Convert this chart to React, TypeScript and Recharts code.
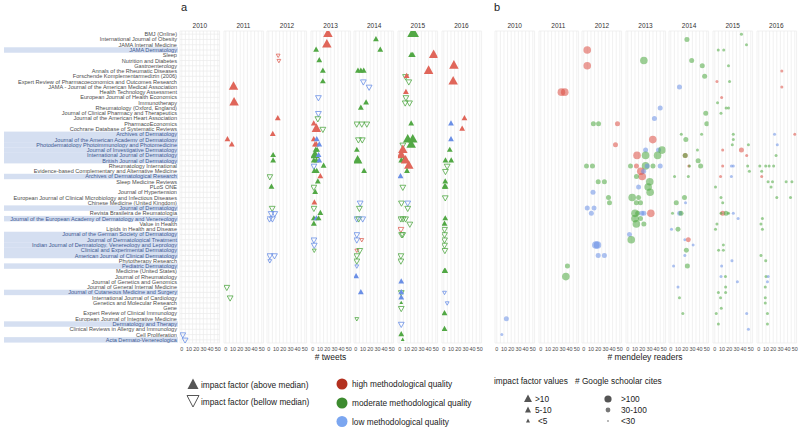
import React from 'react';
import { ScatterChart, Scatter, XAxis, YAxis, CartesianGrid } from 'recharts';

const YEARS = [2010, 2011, 2012, 2013, 2014, 2015, 2016];

const JOURNALS = [
  'BMJ (Online)',
  'International Journal of Obesity',
  'JAMA Internal Medicine',
  'JAMA Dermatology',
  'Sleep',
  'Nutrition and Diabetes',
  'Gastroenterology',
  'Annals of the Rheumatic Diseases',
  'Forschende Komplementarmedizin (2006)',
  'Expert Review of Pharmacoeconomics and Outcomes Research',
  'JAMA - Journal of the American Medical Association',
  'Health Technology Assessment',
  'European Journal of Health Economics',
  'Immunotherapy',
  'Rheumatology (Oxford, England)',
  'Journal of Clinical Pharmacy and Therapeutics',
  'Journal of the American Heart Association',
  'PharmacoEconomics',
  'Cochrane Database of Systematic Reviews',
  'Archives of Dermatology',
  'Journal of the American Academy of Dermatology',
  'Photodermatology Photoimmunology and Photomedicine',
  'Journal of Investigative Dermatology',
  'International Journal of Dermatology',
  'British Journal of Dermatology',
  'Rheumatology International',
  'Evidence-based Complementary and Alternative Medicine',
  'Archives of Dermatological Research',
  'Sleep Medicine Reviews',
  'PLoS ONE',
  'Journal of Hypertension',
  'European Journal of Clinical Microbiology and Infectious Diseases',
  'Chinese Medicine (United Kingdom)',
  'Journal of Dermatology',
  'Revista Brasileira de Reumatologia',
  'Journal of the European Academy of Dermatology and Venereology',
  'Value in Health',
  'Lipids in Health and Disease',
  'Journal of the German Society of Dermatology',
  'Journal of Dermatological Treatment',
  'Indian Journal of Dermatology, Venereology and Leprology',
  'Clinical and Experimental Dermatology',
  'American Journal of Clinical Dermatology',
  'Phytotherapy Research',
  'Pediatric Dermatology',
  'Medicine (United States)',
  'Journal of Rheumatology',
  'Journal of Genetics and Genomics',
  'Journal of General Internal Medicine',
  'Journal of Cutaneous Medicine and Surgery',
  'International Journal of Cardiology',
  'Genetics and Molecular Research',
  'Gene',
  'Expert Review of Clinical Immunology',
  'European Journal of Integrative Medicine',
  'Dermatology and Therapy',
  'Clinical Reviews in Allergy and Immunology',
  'Cell Proliferation',
  'Acta Dermato-Venereologica',
];

const DERMATOLOGY_JOURNALS = [
  'JAMA Dermatology',
  'Archives of Dermatology',
  'Journal of the American Academy of Dermatology',
  'Photodermatology Photoimmunology and Photomedicine',
  'Journal of Investigative Dermatology',
  'International Journal of Dermatology',
  'British Journal of Dermatology',
  'Archives of Dermatological Research',
  'Journal of Dermatology',
  'Journal of the European Academy of Dermatology and Venereology',
  'Journal of the German Society of Dermatology',
  'Journal of Dermatological Treatment',
  'Indian Journal of Dermatology, Venereology and Leprology',
  'Clinical and Experimental Dermatology',
  'American Journal of Clinical Dermatology',
  'Pediatric Dermatology',
  'Journal of Cutaneous Medicine and Surgery',
  'Dermatology and Therapy',
  'Acta Dermato-Venereologica',
];

const X_TICKS = [0, 5, 10, 15, 20, 25, 30, 35, 40, 45, 50];

// [year, journal row, # tweets, quality H/M/L, impact factor vs median U/D, impact class 0:<5 1:5-10 2:>10]
const TWEETS: [number, number, number, string, string, number][] = [
  [2010, 57, 1.4, 'L', 'D', 1], [2010, 58, 4.6, 'L', 'D', 1],

  [2011, 10, 10.7, 'H', 'U', 2], [2011, 13, 11.5, 'H', 'U', 2], [2011, 20, 2.3, 'H', 'U', 1],
  [2011, 21, 8.3, 'H', 'U', 1], [2011, 48, 1.4, 'M', 'D', 1], [2011, 50, 6, 'M', 'D', 1],

  [2012, 4, 13, 'H', 'D', 0], [2012, 5, 14, 'H', 'D', 0], [2012, 16, 12.5, 'H', 'U', 1],
  [2012, 19, 5.5, 'H', 'U', 1], [2012, 23, 6, 'M', 'U', 1], [2012, 24, 6, 'M', 'U', 1],
  [2012, 27, 1.4, 'M', 'D', 1], [2012, 29, 3.7, 'M', 'U', 1], [2012, 33, 4.7, 'M', 'D', 1],
  [2012, 34, 3.3, 'L', 'D', 1], [2012, 34, 8.3, 'L', 'D', 1], [2012, 35, 1, 'L', 'D', 1],
  [2012, 35, 5, 'L', 'D', 1], [2012, 42, 1.4, 'L', 'D', 1], [2012, 42, 7.9, 'L', 'D', 1],
  [2012, 43, 1.4, 'L', 'D', 0],

  [2013, 0, 21, 'H', 'U', 2], [2013, 2, 19.5, 'H', 'U', 2], [2013, 3, 4.6, 'M', 'U', 1],
  [2013, 5, 9, 'M', 'U', 1], [2013, 7, 14, 'M', 'U', 1], [2013, 9, 14, 'M', 'U', 1],
  [2013, 12, 7.8, 'L', 'D', 1], [2013, 15, 7.8, 'L', 'D', 1], [2013, 16, 7, 'M', 'D', 1],
  [2013, 17, 1.3, 'H', 'U', 1], [2013, 18, 5, 'H', 'U', 2], [2013, 18, 14, 'M', 'D', 1],
  [2013, 20, 1.3, 'H', 'U', 1], [2013, 20, 5.5, 'L', 'U', 1], [2013, 21, 3, 'H', 'U', 1],
  [2013, 21, 5, 'H', 'U', 1], [2013, 21, 9, 'L', 'U', 1], [2013, 22, 4, 'M', 'U', 1],
  [2013, 22, 6, 'M', 'U', 1], [2013, 23, 3, 'M', 'U', 2], [2013, 23, 8, 'L', 'U', 1],
  [2013, 24, 1.5, 'M', 'U', 1], [2013, 24, 5, 'M', 'U', 1], [2013, 24, 9, 'L', 'U', 1],
  [2013, 25, 15, 'M', 'U', 1], [2013, 25, 1.5, 'L', 'D', 1], [2013, 26, 2.2, 'M', 'U', 1],
  [2013, 26, 5.5, 'M', 'U', 1], [2013, 27, 10.5, 'H', 'U', 1], [2013, 28, 7, 'M', 'U', 1],
  [2013, 29, 1.3, 'M', 'D', 1], [2013, 30, 3.3, 'M', 'U', 1], [2013, 32, 2.2, 'H', 'U', 1],
  [2013, 33, 1.5, 'M', 'D', 1], [2013, 34, 10.5, 'M', 'U', 1], [2013, 35, 1.5, 'M', 'U', 1],
  [2013, 35, 5, 'L', 'U', 1], [2013, 35, 8, 'M', 'U', 1], [2013, 36, 1.5, 'M', 'U', 1],
  [2013, 39, 1.5, 'L', 'D', 1], [2013, 40, 2, 'L', 'D', 1], [2013, 41, 2, 'M', 'D', 0],

  [2014, 1, 28, 'M', 'U', 1], [2014, 3, 34, 'M', 'U', 1], [2014, 7, 3, 'M', 'U', 1],
  [2014, 7, 7, 'M', 'U', 1], [2014, 7, 11, 'M', 'U', 1], [2014, 9, 10.5, 'L', 'D', 1],
  [2014, 10, 18.5, 'L', 'D', 1], [2014, 13, 14.3, 'M', 'U', 1], [2014, 14, 7, 'M', 'U', 1],
  [2014, 17, 1.3, 'M', 'D', 1], [2014, 17, 8.3, 'M', 'D', 1], [2014, 17, 15.3, 'M', 'D', 1],
  [2014, 20, 3.6, 'M', 'D', 1], [2014, 20, 9, 'M', 'D', 1], [2014, 22, 1.4, 'M', 'U', 1],
  [2014, 24, 2.5, 'M', 'U', 2], [2014, 24, 4, 'M', 'U', 1], [2014, 26, 11.5, 'M', 'U', 1],
  [2014, 32, 6, 'L', 'D', 1], [2014, 33, 5, 'M', 'D', 1], [2014, 35, 1.4, 'L', 'D', 1],
  [2014, 35, 4, 'M', 'D', 1], [2014, 35, 9.6, 'L', 'D', 1], [2014, 38, 1.4, 'L', 'D', 1],
  [2014, 39, 1.4, 'L', 'D', 1], [2014, 39, 8.3, 'H', 'D', 0], [2014, 41, 1.4, 'H', 'D', 0],
  [2014, 41, 5.5, 'M', 'D', 1], [2014, 42, 1.4, 'M', 'D', 1], [2014, 43, 1.4, 'M', 'D', 1],
  [2014, 44, 1.4, 'L', 'D', 0], [2014, 46, 0.4, 'L', 'U', 1], [2014, 49, 7, 'L', 'U', 1],
  [2014, 54, 1.4, 'M', 'D', 0],

  [2015, 0, 17, 'M', 'U', 2], [2015, 0, 20, 'M', 'U', 2], [2015, 4, 15.7, 'M', 'U', 1],
  [2015, 4, 18, 'M', 'U', 1], [2015, 4, 47, 'H', 'U', 2], [2015, 7, 40, 'H', 'U', 2],
  [2015, 8, 8, 'M', 'D', 1], [2015, 8, 9.5, 'H', 'U', 1], [2015, 9, 12.5, 'M', 'D', 1],
  [2015, 11, 8.5, 'H', 'U', 1], [2015, 12, 8.5, 'M', 'D', 1], [2015, 13, 7.5, 'M', 'D', 1],
  [2015, 13, 13.5, 'M', 'D', 1], [2015, 17, 15.8, 'M', 'U', 1], [2015, 20, 11, 'M', 'U', 2],
  [2015, 20, 18, 'M', 'U', 2], [2015, 21, 15.8, 'M', 'U', 2], [2015, 21, 4.2, 'M', 'D', 1],
  [2015, 22, 4.2, 'H', 'U', 2], [2015, 23, 2, 'H', 'U', 2], [2015, 24, 2, 'M', 'U', 1],
  [2015, 24, 5, 'M', 'U', 1], [2015, 24, 8, 'H', 'U', 2], [2015, 25, 12.5, 'H', 'U', 2],
  [2015, 26, 10, 'M', 'U', 1], [2015, 27, 1, 'L', 'U', 1], [2015, 29, 4.2, 'M', 'D', 1],
  [2015, 32, 2.3, 'M', 'D', 1], [2015, 32, 11, 'L', 'D', 1], [2015, 33, 11, 'M', 'D', 1],
  [2015, 35, 1.5, 'M', 'D', 1], [2015, 35, 4.5, 'M', 'D', 1], [2015, 35, 8, 'M', 'D', 1],
  [2015, 36, 13.9, 'M', 'D', 1], [2015, 37, 1.5, 'H', 'D', 1], [2015, 38, 2.5, 'M', 'D', 1],
  [2015, 38, 4, 'M', 'D', 1], [2015, 42, 1.5, 'M', 'D', 1], [2015, 43, 1.5, 'M', 'D', 1],
  [2015, 47, 2, 'L', 'U', 1], [2015, 49, 2, 'M', 'D', 1], [2015, 49, 2, 'L', 'U', 1],
  [2015, 50, 2, 'L', 'U', 1], [2015, 51, 2, 'M', 'U', 0], [2015, 52, 2, 'M', 'D', 1],
  [2015, 55, 2, 'L', 'D', 1], [2015, 57, 2, 'M', 'U', 1], [2015, 58, 4, 'M', 'U', 0],

  [2016, 6, 14, 'H', 'U', 2], [2016, 9, 13, 'H', 'U', 2], [2016, 16, 28.7, 'H', 'U', 1],
  [2016, 17, 10, 'L', 'U', 1], [2016, 18, 25.5, 'H', 'U', 1], [2016, 20, 10, 'L', 'U', 1],
  [2016, 22, 8.3, 'M', 'U', 1], [2016, 24, 2.3, 'M', 'U', 1], [2016, 24, 10.3, 'M', 'U', 1],
  [2016, 25, 4.7, 'M', 'D', 1], [2016, 26, 2.3, 'M', 'D', 1], [2016, 28, 2, 'M', 'U', 1],
  [2016, 29, 1, 'M', 'U', 1], [2016, 29, 2.5, 'M', 'U', 1], [2016, 31, 2, 'M', 'D', 1],
  [2016, 35, 2, 'M', 'U', 1], [2016, 36, 1, 'M', 'U', 1], [2016, 37, 1, 'M', 'D', 1],
  [2016, 38, 1, 'M', 'D', 1], [2016, 39, 1, 'M', 'D', 1], [2016, 40, 1, 'M', 'D', 1],
  [2016, 41, 1.5, 'M', 'D', 1], [2016, 45, 1, 'M', 'U', 1], [2016, 45, 2, 'M', 'U', 1],
  [2016, 49, 1, 'L', 'D', 0], [2016, 51, 4.7, 'L', 'D', 0], [2016, 53, 1, 'M', 'U', 1],
  [2016, 56, 1, 'M', 'U', 1],
];

// [year, journal row, # mendeley readers, quality H/M/L, google scholar cites class 0:<30 1:30-100 2:>100]
const READERS: [number, number, number, string, number][] = [
  [2010, 54, 13.3, 'L', 1], [2010, 57, 7, 'L', 0],

  [2011, 11, 28.6, 'H', 2], [2011, 11, 33.3, 'H', 2], [2011, 44, 37, 'M', 1], [2011, 46, 34.8, 'M', 2],

  [2012, 3, 4.8, 'H', 2], [2012, 6, 4.8, 'H', 2], [2012, 17, 13.3, 'M', 1], [2012, 17, 20.5, 'M', 1],
  [2012, 17, 46.8, 'H', 1], [2012, 21, 44, 'H', 1], [2012, 25, 3.8, 'M', 1], [2012, 25, 12, 'M', 1],
  [2012, 28, 20, 'M', 1], [2012, 28, 28.6, 'M', 1], [2012, 30, 12.8, 'L', 1], [2012, 31, 34.3, 'M', 1],
  [2012, 32, 35.7, 'M', 1], [2012, 33, 4.8, 'L', 1], [2012, 33, 14.3, 'L', 1], [2012, 34, 10.5, 'L', 1],
  [2012, 40, 16.7, 'L', 2], [2012, 40, 19, 'L', 2], [2012, 42, 20, 'L', 1], [2012, 42, 28.6, 'L', 1],

  [2013, 5, 22.3, 'M', 2], [2013, 14, 45, 'L', 1], [2013, 16, 37, 'L', 1], [2013, 20, 34.7, 'H', 2],
  [2013, 22, 24.7, 'L', 1], [2013, 22, 42.7, 'L', 1], [2013, 22, 47.6, 'M', 2], [2013, 23, 12.8, 'H', 2],
  [2013, 23, 24.7, 'M', 2], [2013, 23, 41.4, 'M', 2], [2013, 25, 3.8, 'M', 1], [2013, 25, 12, 'H', 1],
  [2013, 25, 24.7, 'M', 2], [2013, 25, 27, 'L', 1], [2013, 25, 35, 'M', 1], [2013, 25, 45, 'L', 1],
  [2013, 26, 18, 'H', 2], [2013, 27, 20, 'H', 2], [2013, 26, 22, 'L', 1], [2013, 27, 12, 'M', 1],
  [2013, 28, 30.5, 'M', 2], [2013, 29, 28.3, 'M', 2], [2013, 29, 15, 'L', 1], [2013, 30, 31, 'M', 2],
  [2013, 31, 6.1, 'M', 2], [2013, 31, 15, 'M', 1], [2013, 32, 11.9, 'M', 1], [2013, 32, 17.6, 'M', 1],
  [2013, 34, 10, 'M', 2], [2013, 34, 13.8, 'M', 1], [2013, 34, 19.5, 'L', 1], [2013, 34, 22.3, 'L', 1],
  [2013, 34, 32, 'H', 2], [2013, 35, 10, 'M', 2], [2013, 35, 17.6, 'M', 1], [2013, 36, 11.9, 'M', 2],
  [2013, 36, 22.3, 'M', 1], [2013, 38, 2.4, 'L', 1], [2013, 39, 4.8, 'M', 2],

  [2014, 1, 22.4, 'M', 1], [2014, 5, 29, 'M', 1], [2014, 6, 43.7, 'M', 1], [2014, 8, 47, 'M', 1],
  [2014, 10, 12, 'L', 1], [2014, 15, 48.6, 'M', 1], [2014, 17, 50, 'M', 1], [2014, 19, 14.6, 'M', 0],
  [2014, 20, 20.9, 'M', 1], [2014, 19, 42.8, 'M', 0], [2014, 22, 37, 'M', 0], [2014, 23, 20, 'H', 1],
  [2014, 23, 20, 'M', 1], [2014, 24, 38, 'M', 1], [2014, 25, 25, 'H', 0], [2014, 25, 41.4, 'M', 1],
  [2014, 25, 26, 'M', 0], [2014, 27, 5.2, 'M', 0], [2014, 27, 24.3, 'M', 0], [2014, 31, 19, 'M', 1],
  [2014, 32, 7.6, 'M', 1], [2014, 32, 20.5, 'L', 0], [2014, 34, 2.4, 'M', 0], [2014, 34, 12.4, 'L', 1],
  [2014, 34, 14.3, 'M', 1], [2014, 37, 1, 'L', 0], [2014, 37, 10, 'M', 1], [2014, 39, 19.5, 'L', 0],
  [2014, 39, 24.3, 'H', 1], [2014, 40, 31, 'L', 0], [2014, 41, 21.6, 'M', 1], [2014, 42, 19.5, 'L', 0],
  [2014, 44, 3.8, 'L', 0], [2014, 44, 23, 'M', 1], [2014, 48, 10, 'L', 0], [2014, 50, 12, 'M', 0],
  [2014, 53, 16.7, 'M', 0],

  [2015, 0, 37, 'M', 0], [2015, 2, 44, 'M', 0], [2015, 3, 12.4, 'M', 0], [2015, 3, 4.8, 'M', 0],
  [2015, 6, 19, 'M', 0], [2015, 9, 20.5, 'M', 0], [2015, 9, 3, 'H', 0], [2015, 12, 9.5, 'H', 0],
  [2015, 13, 3.8, 'M', 0], [2015, 14, 15.7, 'M', 0], [2015, 14, 19, 'M', 0], [2015, 15, 8.6, 'M', 0],
  [2015, 19, 25.7, 'M', 0], [2015, 20, 25.7, 'M', 0], [2015, 21, 24.3, 'M', 0], [2015, 21, 46.7, 'M', 0],
  [2015, 22, 11, 'H', 0], [2015, 22, 37, 'H', 1], [2015, 23, 44.3, 'H', 0], [2015, 25, 11, 'H', 0],
  [2015, 25, 23, 'L', 0], [2015, 25, 25.7, 'L', 0], [2015, 25, 45.7, 'M', 0], [2015, 26, 48, 'M', 0],
  [2015, 27, 8, 'H', 0], [2015, 27, 23, 'L', 0], [2015, 29, 1, 'M', 0], [2015, 31, 8.6, 'M', 0],
  [2015, 32, 11, 'M', 0], [2015, 34, 11, 'H', 1], [2015, 34, 15.7, 'M', 1], [2015, 34, 19, 'M', 0],
  [2015, 34, 25.7, 'L', 0], [2015, 34, 8.6, 'M', 0], [2015, 35, 32.4, 'L', 0], [2015, 36, 3, 'M', 0],
  [2015, 37, 1, 'M', 0], [2015, 40, 11.9, 'M', 0], [2015, 41, 5.3, 'M', 0], [2015, 41, 11.9, 'M', 0],
  [2015, 43, 23.8, 'L', 0], [2015, 44, 9.5, 'L', 0], [2015, 46, 8.6, 'L', 0], [2015, 46, 14.8, 'M', 0],
  [2015, 47, 31.4, 'L', 0], [2015, 48, 15, 'M', 0], [2015, 49, 15, 'M', 0], [2015, 49, 5, 'M', 0],
  [2015, 50, 8, 'M', 0], [2015, 52, 9, 'M', 0], [2015, 53, 2, 'M', 0], [2015, 53, 44.3, 'L', 0],
  [2015, 55, 5, 'M', 0], [2015, 56, 46.7, 'L', 0],

  [2016, 7, 32, 'H', 0], [2016, 10, 32, 'H', 0], [2016, 19, 21.9, 'L', 0], [2016, 19, 50, 'H', 0],
  [2016, 21, 25.7, 'L', 0], [2016, 23, 24, 'M', 0], [2016, 25, 1.4, 'M', 0], [2016, 25, 9.6, 'M', 0],
  [2016, 25, 14.3, 'M', 0], [2016, 25, 20.6, 'M', 0], [2016, 26, 4, 'M', 0], [2016, 27, 4, 'H', 0],
  [2016, 28, 12.9, 'M', 0], [2016, 28, 38, 'M', 0], [2016, 28, 19, 'M', 0], [2016, 29, 17, 'M', 0],
  [2016, 28, 46, 'M', 0], [2016, 31, 25, 'M', 0], [2016, 31, 44, 'M', 0], [2016, 35, 5, 'M', 0],
  [2016, 36, 3, 'M', 0], [2016, 37, 5, 'M', 0], [2016, 42, 3, 'M', 0], [2016, 43, 9.6, 'M', 0],
  [2016, 46, 10, 'M', 0], [2016, 46, 13, 'L', 0], [2016, 47, 12, 'L', 0], [2016, 48, 9, 'M', 0],
  [2016, 50, 9, 'M', 0], [2016, 51, 9, 'M', 0], [2016, 53, 12, 'M', 0], [2016, 55, 12, 'M', 0],
];

const FONT = 'Liberation Sans, Arial, Helvetica, sans-serif';
const TRI_COLORS: Record<string, string> = { H: '#e0665a', M: '#52a845', L: '#6a8fe6' };
const DOT_COLORS: Record<string, string> = { H: '#dc4f44', M: '#4ca83f', L: '#6a8fe6' };
const TRI_SIZES = [3.8, 5.8, 9.5];
const DOT_RADII = [1.5, 2.5, 3.8];

const FACET_W = 39.6;
const FACET_STEP = 43.6;
const PLOT_TOP = 31;
const PLOT_H = 312;
const AXIS_H = 14;
const LABEL_W = 180;
const PANEL_A_LEFT = 180;
const PANEL_B_LEFT = 494.9;
const ROW_TICKS = JOURNALS.map((_, i) => i);
const DERM_SET = new Set(DERMATOLOGY_JOURNALS);

const JournalTick = (props: any) => {
  const { x, y, payload } = props;
  const name = JOURNALS[payload.value];
  const hl = DERM_SET.has(name);
  return (
    <g>
      {hl && <rect x={4} y={y - 2.7} width={174} height={5.45} fill="#d5dff1" />}
      <text x={x} y={y} dy={2} textAnchor="end" fontSize={5.6} fontFamily={FONT} fill={hl ? '#3f5a92' : '#4d4d4d'}>
        {name}
      </text>
    </g>
  );
};

const TriangleShape = (props: any) => {
  const { cx, cy, payload } = props;
  if (cx == null || cy == null) return <g />;
  const w = TRI_SIZES[payload.s];
  const h = w * 0.9;
  const c = TRI_COLORS[payload.q];
  if (payload.dir === 'U') {
    const d = `M${cx},${cy - (2 * h) / 3} L${cx + w / 2},${cy + h / 3} L${cx - w / 2},${cy + h / 3} Z`;
    return <path d={d} fill={c} stroke="none" />;
  }
  const d = `M${cx},${cy + (2 * h) / 3} L${cx + w / 2},${cy - h / 3} L${cx - w / 2},${cy - h / 3} Z`;
  return <path d={d} fill="none" stroke={c} strokeWidth={0.8} />;
};

const DotShape = (props: any) => {
  const { cx, cy, payload } = props;
  if (cx == null || cy == null) return <g />;
  return <circle cx={cx} cy={cy} r={DOT_RADII[payload.s]} fill={DOT_COLORS[payload.q]} fillOpacity={0.55} />;
};

const tickFmt = (v: number) => (v % 10 === 0 ? String(v) : '');

function Facet({ left, data, showY, shape }: { left: number; data: any[]; showY: boolean; shape: any }) {
  const yW = showY ? LABEL_W : 0;
  return (
    <div style={{ position: 'absolute', left: left - yW, top: PLOT_TOP }}>
      <ScatterChart width={FACET_W + yW} height={PLOT_H + AXIS_H} margin={{ top: 0, right: 0, bottom: 0, left: 0 }}>
        <CartesianGrid stroke="#ebebeb" strokeWidth={0.7} />
        <XAxis
          type="number"
          dataKey="x"
          domain={[-2.5, 52.5]}
          ticks={X_TICKS}
          interval={0}
          tickFormatter={tickFmt}
          tick={{ fontSize: 5.4, fill: '#4d4d4d', fontFamily: FONT }}
          tickLine={false}
          axisLine={false}
          tickSize={0}
          tickMargin={4}
          height={AXIS_H}
          allowDataOverflow
        />
        <YAxis
          type="number"
          dataKey="y"
          domain={[-0.6, 58.6]}
          reversed
          ticks={ROW_TICKS}
          interval={0}
          width={yW}
          tick={showY ? <JournalTick /> : false}
          tickLine={false}
          axisLine={false}
          tickSize={0}
          tickMargin={3}
          allowDataOverflow
        />
        <Scatter data={data} shape={shape} isAnimationActive={false} />
      </ScatterChart>
    </div>
  );
}

export default function App() {
  const tweetsByYear = YEARS.map((yr) =>
    TWEETS.filter((p) => p[0] === yr).map((p) => ({ journal: JOURNALS[p[1]], y: p[1], x: p[2], q: p[3], dir: p[4], s: p[5] }))
  );
  const readersByYear = YEARS.map((yr) =>
    READERS.filter((p) => p[0] === yr).map((p) => ({ journal: JOURNALS[p[1]], y: p[1], x: p[2], q: p[3], s: p[4] }))
  );

  const t = { fontFamily: FONT } as const;

  return (
    <div style={{ position: 'absolute', left: 0, top: 0, width: 800, height: 436, background: '#fff', overflow: 'hidden' }}>
      <style>{'.recharts-surface{overflow:visible}'}</style>
      {YEARS.map((yr, i) => (
        <Facet key={'a' + yr} left={PANEL_A_LEFT + i * FACET_STEP} data={tweetsByYear[i]} showY={i === 0} shape={TriangleShape} />
      ))}
      {YEARS.map((yr, i) => (
        <Facet key={'b' + yr} left={PANEL_B_LEFT + i * FACET_STEP} data={readersByYear[i]} showY={false} shape={DotShape} />
      ))}
      <svg width={800} height={436} style={{ position: 'absolute', left: 0, top: 0, pointerEvents: 'none' }}>
        <text x={181} y={11} fontSize={11} fill="#222" {...t}>a</text>
        <text x={494} y={11} fontSize={11} fill="#222" {...t}>b</text>
        {YEARS.map((yr, i) => (
          <text key={'sa' + yr} x={PANEL_A_LEFT + i * FACET_STEP + FACET_W / 2} y={27.5} fontSize={6.5} fill="#333" textAnchor="middle" {...t}>{yr}</text>
        ))}
        {YEARS.map((yr, i) => (
          <text key={'sb' + yr} x={PANEL_B_LEFT + i * FACET_STEP + FACET_W / 2} y={27.5} fontSize={6.5} fill="#333" textAnchor="middle" {...t}>{yr}</text>
        ))}
        <text x={330.5} y={360} fontSize={8.5} fill="#222" textAnchor="middle" {...t}># tweets</text>
        <text x={645} y={360} fontSize={8.5} fill="#222" textAnchor="middle" {...t}># mendeley readers</text>

        <path d="M193,378.5 L198.5,389 L187.5,389 Z" fill="#555" />
        <text x={201} y={387.5} fontSize={8.3} fill="#222" {...t}>impact factor (above median)</text>
        <path d="M187,395.5 L199,395.5 L193,407 Z" fill="none" stroke="#555" strokeWidth={1} />
        <text x={201} y={404.5} fontSize={8.3} fill="#222" {...t}>impact factor (bellow median)</text>

        <circle cx={342} cy={384} r={5.5} fill="#b3301f" />
        <circle cx={342} cy={403} r={5.5} fill="#3d8b2f" />
        <circle cx={342} cy={421.5} r={5.5} fill="#7ba6f0" />
        <text x={352} y={387} fontSize={8.3} fill="#222" {...t}>high methodological quality</text>
        <text x={352} y={406} fontSize={8.3} fill="#222" {...t}>moderate methodological quality</text>
        <text x={352} y={424.5} fontSize={8.3} fill="#222" {...t}>low methodological quality</text>

        <text x={494} y={384} fontSize={8.3} fill="#222" {...t}>impact factor values</text>
        <text x={575} y={384} fontSize={8.3} fill="#222" {...t}># Google schoolar cites</text>
        <path d="M528,394.5 L532,402 L524,402 Z" fill="#555" />
        <path d="M528,406.5 L531,412.5 L525,412.5 Z" fill="#555" />
        <path d="M528,418.5 L530,422.5 L526,422.5 Z" fill="#555" />
        <text x={535} y={402} fontSize={8.3} fill="#222" {...t}>&gt;10</text>
        <text x={535} y={413} fontSize={8.3} fill="#222" {...t}>5-10</text>
        <text x={538} y={424} fontSize={8.3} fill="#222" {...t}>&lt;5</text>
        <circle cx={608} cy={399} r={3.6} fill="#555" />
        <circle cx={608} cy={410} r={2.4} fill="#777" />
        <circle cx={608} cy={421} r={0.9} fill="#999" />
        <text x={621} y={402} fontSize={8.3} fill="#222" {...t}>&gt;100</text>
        <text x={621} y={413} fontSize={8.3} fill="#222" {...t}>30-100</text>
        <text x={621} y={424} fontSize={8.3} fill="#222" {...t}>&lt;30</text>
      </svg>
    </div>
  );
}
